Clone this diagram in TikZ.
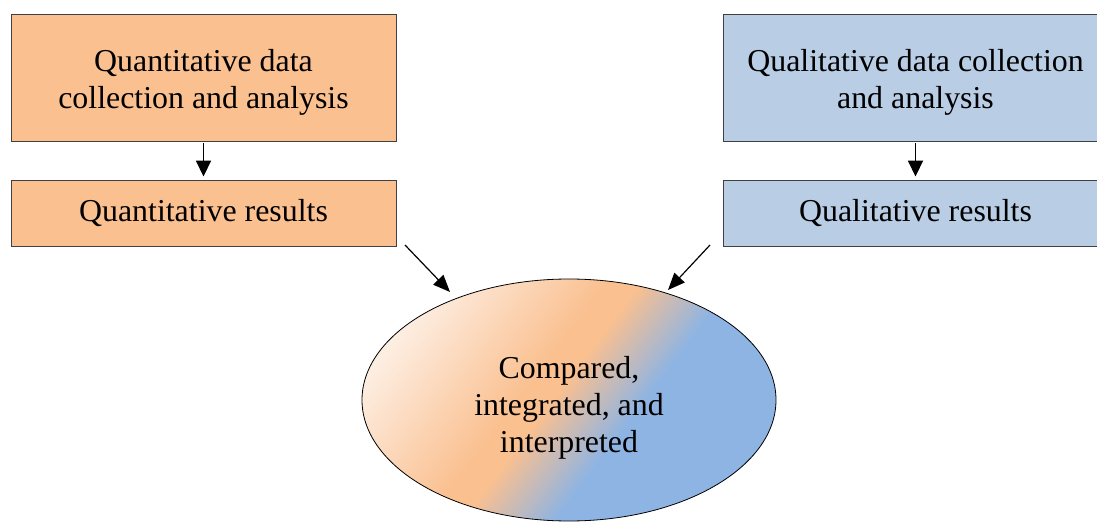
\documentclass[tikz,border=0pt]{standalone}
\usepackage{fontspec}
\setmainfont{Liberation Serif}
\usetikzlibrary{arrows.meta,shapes.geometric}
\definecolor{peach}{HTML}{FAC090}
\definecolor{peachlt}{HTML}{FDEEE2}
\definecolor{skyfill}{HTML}{B9CDE5}
\definecolor{mixblue}{HTML}{8EB4E3}
\pgfdeclarehorizontalshading{mixed}{100bp}{color(0bp)=(white); color(24bp)=(peachlt); color(44bp)=(peach); color(48bp)=(peach); color(59bp)=(mixblue); color(100bp)=(mixblue)}
\newcommand\topgap[1]{\rule{0pt}{#1}}
\tikzset{
  box/.style={draw=black!75,line width=.8bp,minimum width=385bp,align=center,inner sep=0pt,font=\fontsize{32}{37}\selectfont},
  arr/.style={-{Triangle[length=16bp,width=15bp]},line width=1.8bp},
  slant/.style={-{Triangle[length=17bp,width=14bp]},line width=1.2bp}
}
\begin{document}
\begin{tikzpicture}[x=1bp,y=-1bp]
\useasboundingbox(0,0)rectangle(1097,522);
\clip(0,0)rectangle(1097,522);
\node[box,fill=peach,minimum height=127bp](qn)at(203.5,78){\topgap{31bp}Quantitative data\\collection and analysis};
\node[box,fill=peach,minimum height=66.7bp](qnres)at(203.5,213.3){Quantitative results};
\node[box,fill=skyfill,minimum height=127bp](ql)at(915.5,78){\topgap{31bp}Qualitative data collection\\and analysis};
\node[box,fill=skyfill,minimum height=66.7bp](qlres)at(915.5,213.3){Qualitative results};
\node[ellipse,draw,line width=.8bp,minimum width=414bp,minimum height=242bp,shading=mixed,shading angle=-37,align=center,font=\fontsize{32}{37}\selectfont](mix)at(569,400){\topgap{38bp}Compared,\\integrated, and\\interpreted};
\coordinate(qnout)at(405,245);\coordinate(qnin)at(450,292);
\coordinate(qlout)at(710,245);\coordinate(qlin)at(668,290);
\draw[arr,shorten <=1.5bp,shorten >=3bp](qn)--(qnres);
\draw[arr,shorten <=1.5bp,shorten >=3bp](ql)--(qlres);
\draw[slant](qnout)--(qnin);
\draw[slant](qlout)--(qlin);
\end{tikzpicture}
\end{document}
